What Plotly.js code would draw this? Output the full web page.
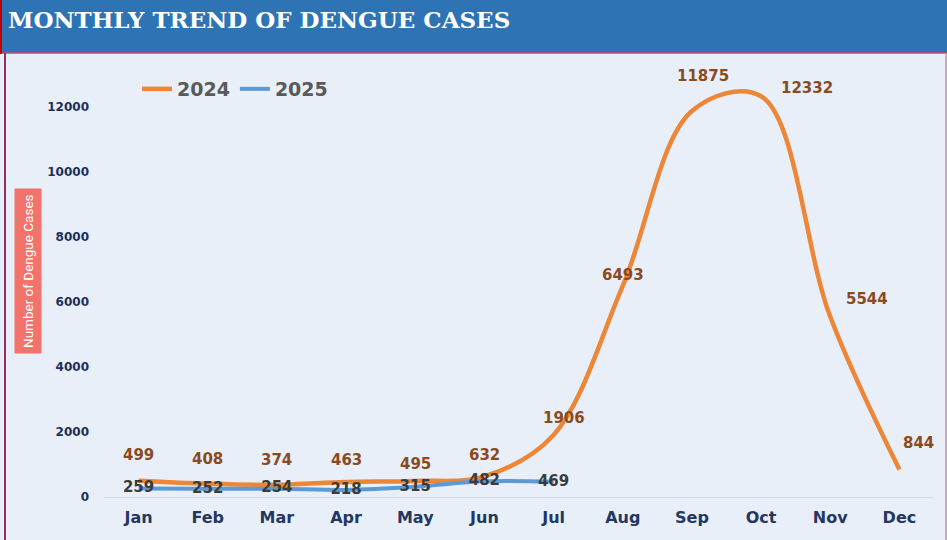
<!DOCTYPE html>
<html><head><meta charset="utf-8">
<script src="https://cdn.plot.ly/plotly-3.0.1.min.js"></script>
<style>html,body{margin:0;padding:0;background:#e8eff8;}#chart{width:947px;height:540px;}</style>
</head><body><div id="chart"></div>
<script>
const months = ["Jan","Feb","Mar","Apr","May","Jun","Jul","Aug","Sep","Oct","Nov","Dec"];
const cases2024 = [499,408,374,463,495,632,1906,6493,11875,12332,5544,844];
const months2025 = ["Jan","Feb","Mar","Apr","May","Jun","Jul"];
const cases2025 = [259,252,254,218,315,482,469];
const yTicks = [0,2000,4000,6000,8000,10000,12000];

const L = 104, R = 13, T = 60, B = 34, W = 947, H = 540;
const pw = W - L - R, ph = H - T - B;
const px = x => (x - L) / pw;
const py = y => (H - B - y) / ph;

// label offsets (pixels) for the 2024 labels
const dx = [0,0,0,0,0,0,10,0,11,46,37,19];
const dy = [26,25,25,22,17,21,17,11,35,8,18,27];

const annotations = cases2024.map((v,i)=>({
  x: months[i], y: v, xref:'x', yref:'y', text: String(v), showarrow:false,
  xshift: dx[i], yshift: dy[i],
  font:{family:'DejaVu Sans', size:15, color:'#8a4a1e', weight:'bold'}
}));
annotations.push({
  xref:'paper', yref:'paper', x: px(28), y: py(271), xanchor:'center', yanchor:'middle',
  text:'Number of Dengue Cases',
  textangle:-90, showarrow:false, bgcolor:'#f2736b', borderpad:5,
  font:{family:'Liberation Sans Narrow, Roboto', size:13.5, color:'#ffffff'}
});

const data = [
  {x: months, y: cases2024, name:'2024', type:'scatter', mode:'lines',
   line:{color:'#ee8638', width:4.5, shape:'spline', smoothing:1.0}},
  {x: months2025, y: cases2025, name:'2025', type:'scatter', mode:'lines+text',
   text: cases2025.map(String), textposition:'middle center',
   textfont:{family:'DejaVu Sans', size:15, color:'#3b3b3b', weight:'bold'},
   line:{color:'#5b9bd5', width:4, shape:'spline', smoothing:1}}
];

const layout = {
  width: W, height: H,
  margin:{l:L, r:R, t:T, b:B},
  paper_bgcolor:'#e8eff8', plot_bgcolor:'#e8eff8',
  title:{text:'MONTHLY TREND OF DENGUE CASES', xref:'container', yref:'container',
    x: 8/W, xanchor:'left', y: 1 - 20/H, yanchor:'middle',
    font:{family:'DejaVu Serif', size:23, color:'#ffffff', weight:'bold'}},
  showlegend:true,
  legend:{orientation:'h', x: px(137), xanchor:'left', y: py(70), yanchor:'top',
    bgcolor:'rgba(0,0,0,0)', font:{family:'DejaVu Sans', size:19, color:'#5a5a5a', weight:'bold'}},
  xaxis:{type:'category', range:[-0.5, 11.5], autorange:false, showgrid:false, zeroline:false, showline:false, ticks:'',
    tickfont:{family:'DejaVu Sans', size:16, color:'#253760', weight:'bold'}},
  yaxis:{range:[-277, 13446], autorange:false, tickvals:yTicks, ticktext: yTicks.map(String), showgrid:false,
    zeroline:true, zerolinecolor:'#d3d9e2', zerolinewidth:1, showline:false, ticks:'',
    ticklabelstandoff:14,
    tickfont:{family:'DejaVu Sans', size:12, color:'#1f3058', weight:'bold'}},
  annotations: annotations,
  shapes:[
    {type:'rect', xref:'paper', yref:'paper', x0:px(0), x1:px(947), y0:py(53), y1:py(0),
     fillcolor:'#2e74b5', line:{width:0}, layer:'below'},
    {type:'line', xref:'paper', yref:'paper', x0:px(0), x1:px(947), y0:py(53), y1:py(53),
     line:{color:'#c94a6a', width:1.5}},
    {type:'line', xref:'paper', yref:'paper', x0:px(1), x1:px(1), y0:py(0), y1:py(54),
     line:{color:'#c00000', width:2}},
    {type:'line', xref:'paper', yref:'paper', x0:px(5), x1:px(5), y0:py(53), y1:py(540),
     line:{color:'#9b2d5e', width:2}},
    {type:'line', xref:'paper', yref:'paper', x0:px(946), x1:px(946), y0:py(53), y1:py(540),
     line:{color:'#d58aa8', width:1.5}}
  ]
};
Plotly.newPlot('chart', data, layout, {displayModeBar:false});
</script></body></html>
